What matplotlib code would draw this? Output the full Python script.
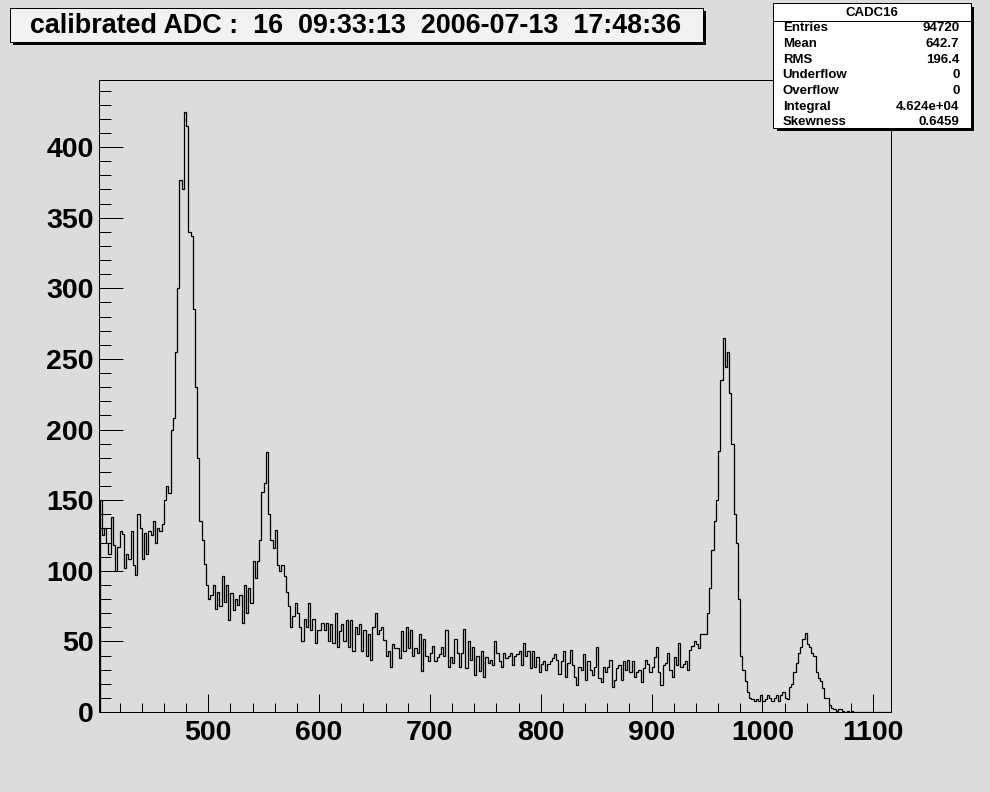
import numpy as np
import matplotlib.pyplot as plt
from matplotlib.patches import Rectangle
from matplotlib.lines import Line2D

# bin contents, 2-ADC-wide bins starting at 402
counts_402_506 = [150, 125, 130, 120, 112, 138, 118, 100, 117, 128,
                  126, 102, 112, 108, 128, 104, 97, 140, 130, 108,
                  127, 112, 128, 125, 135, 120, 130, 128, 133, 150,
                  160, 155, 200, 208, 255, 300, 377, 370, 425, 415,
                  340, 337, 285, 230, 180, 135, 122, 105, 90, 80,
                  83, 90]
counts_506_610 = [73, 85, 75, 96, 78, 90, 65, 84, 72, 80,
                  76, 83, 63, 90, 70, 88, 77, 107, 95, 107,
                  122, 156, 162, 184, 140, 122, 116, 129, 104, 100,
                  104, 96, 85, 75, 60, 68, 77, 70, 60, 50,
                  66, 60, 77, 58, 66, 49, 58, 58, 63, 58,
                  63, 50]
counts_610_816 = [62, 49, 70, 46, 57, 62, 50, 65, 46, 65,
                  43, 60, 55, 62, 43, 58, 40, 55, 37, 60,
                  70, 55, 58, 60, 51, 40, 43, 32, 48, 45,
                  45, 38, 57, 43, 60, 45, 58, 40, 45, 42,
                  55, 29, 52, 40, 36, 42, 47, 36, 39, 41,
                  46, 40, 58, 32, 39, 35, 52, 42, 32, 42,
                  59, 31, 50, 37, 46, 26, 40, 29, 43, 25,
                  39, 35, 37, 33, 50, 42, 36, 32, 42, 38,
                  40, 42, 33, 40, 41, 43, 33, 49, 40, 43,
                  31, 43, 32, 39, 28, 34, 36, 30, 34, 36,
                  38, 41, 37]
counts_816_934 = [27, 36, 43, 25, 35, 44, 33, 25, 19, 32,
                  30, 41, 23, 36, 30, 26, 32, 46, 24, 21,
                  32, 28, 32, 37, 18, 23, 31, 33, 23, 36,
                  30, 37, 28, 36, 25, 28, 30, 21, 31, 37,
                  34, 28, 32, 39, 46, 28, 19, 33, 35, 42,
                  30, 25, 39, 33, 49, 32, 34, 36, 30]
counts_934_1006 = [44, 47, 50, 48, 45, 55, 55, 55, 70, 88,
                   115, 135, 150, 185, 235, 265, 244, 255, 226, 190,
                   140, 120, 80, 40, 30, 22, 14, 10, 9, 8,
                   9, 8, 12, 8, 9, 12]
counts_1006_1116 = [10, 8, 10, 12, 8, 12, 14, 10, 9, 18,
                    20, 28, 35, 42, 46, 52, 56, 48, 46, 42,
                    40, 28, 24, 22, 17, 10, 10, 5, 3, 2,
                    1, 2, 2, 1, 0, 1, 0, 1, 0, 0,
                    0, 0, 0, 0, 0, 0, 0, 0, 0, 0,
                    0, 0, 0, 0, 0]

counts = np.array(counts_402_506 + counts_506_610 + counts_610_816
                  + counts_816_934 + counts_934_1006 + counts_1006_1116)
edges = np.arange(402, 402 + 2 * len(counts) + 1, 2)

x_ticks = [500, 600, 700, 800, 900, 1000, 1100]
y_ticks = [0, 50, 100, 150, 200, 250, 300, 350, 400]

title = "calibrated ADC :  16  09:33:13  2006-07-13  17:48:36"
stats_name = "CADC16"
stats_labels = ["Entries", "Mean", "RMS", "Underflow", "Overflow", "Integral", "Skewness"]
stats_values = ["94720", "642.7", "196.4", "0", "0", "4.624e+04", "0.6459"]

BG = "#dcdcdc"
W, H = 990, 792
FONT = "Liberation Sans"


def fx(px):
    return px / W


def fy(py):
    return 1 - py / H


fig = plt.figure(figsize=(W / 100, H / 100), dpi=100, facecolor=BG)
ax = fig.add_axes([fx(99.3), fy(712), fx(891) - fx(99.3), fy(80) - fy(712)])
ax.set_facecolor(BG)

ax.stairs(counts, edges, color="black", linewidth=0.9)

ax.set_xlim(401.7, 1116)
ax.set_ylim(0, 447.5)
ax.set_xticks(x_ticks)
ax.set_xticks(np.arange(420, 1116, 20), minor=True)
ax.set_yticks(y_ticks)
ax.set_yticks(np.arange(0, 447, 10), minor=True)

ax.tick_params(axis="x", which="major", direction="in", length=13, width=0.72, pad=6)
ax.tick_params(axis="x", which="minor", direction="in", length=6.5, width=0.72)
ax.tick_params(axis="y", which="major", direction="in", length=17, width=0.72, pad=4)
ax.tick_params(axis="y", which="minor", direction="in", length=8.3, width=0.72)
for lab in ax.get_xticklabels() + ax.get_yticklabels():
    lab.set_fontfamily(FONT)
    lab.set_fontweight("bold")
    lab.set_fontsize(20.5)
for sp in ax.spines.values():
    sp.set_linewidth(0.72)
    sp.set_color("black")

# title box with shadow
fig.patches.append(Rectangle((fx(13), fy(45)), fx(693), fy(0) - fy(34),
                             transform=fig.transFigure, facecolor="black",
                             edgecolor="none", zorder=5))
fig.patches.append(Rectangle((fx(10), fy(42)), fx(693), fy(0) - fy(34),
                             transform=fig.transFigure, facecolor="#f2f2f2",
                             edgecolor="black", linewidth=0.72, zorder=6))
fig.text(fx(30), fy(26), title, fontsize=19.4, fontweight="bold", family=FONT,
         ha="left", va="center", zorder=7)

# stats box with shadow
fig.patches.append(Rectangle((fx(776.5), fy(131)), fx(197.7), fy(0) - fy(124.4),
                             transform=fig.transFigure, facecolor="black",
                             edgecolor="none", zorder=5))
fig.patches.append(Rectangle((fx(773.3), fy(127.7)), fx(197.7), fy(0) - fy(124.4),
                             transform=fig.transFigure, facecolor="white",
                             edgecolor="black", linewidth=0.72, zorder=6))
fig.lines.append(Line2D([fx(773.3), fx(971)], [fy(20.7), fy(20.7)],
                        transform=fig.transFigure, color="black", linewidth=0.72, zorder=7))
fig.text(fx(872), fy(12.5), stats_name, fontsize=9.5, fontweight="bold", family=FONT,
         ha="center", va="center", zorder=7)
for i, (lab, val) in enumerate(zip(stats_labels, stats_values)):
    y = 28.2 + i * 15.7
    fig.text(fx(782.7), fy(y), lab, fontsize=9.5, fontweight="bold", family=FONT,
             ha="left", va="center", zorder=7)
    fig.text(fx(959.5), fy(y), val, fontsize=9.5, fontweight="bold", family=FONT,
             ha="right", va="center", zorder=7)

fig.savefig("out.png", dpi=100, facecolor=BG)
